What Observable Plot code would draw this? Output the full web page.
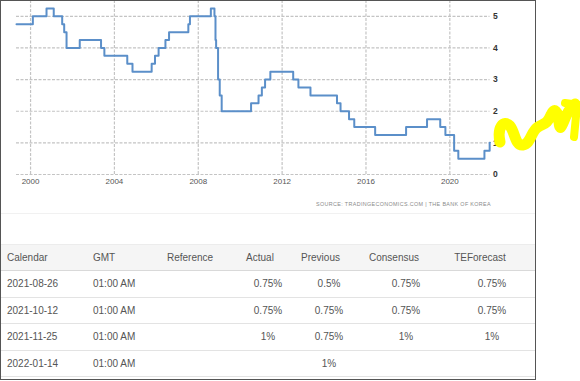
<!DOCTYPE html>
<html><head><meta charset="utf-8">
<script src="https://cdn.jsdelivr.net/npm/d3@7"></script>
<script src="https://cdn.jsdelivr.net/npm/@observablehq/plot@0.6"></script>
<style>
html,body{margin:0;padding:0;background:#fff;width:580px;height:381px;overflow:hidden;font-family:"Liberation Sans",Arial,sans-serif;}
#box{position:absolute;left:0;top:0;width:536px;height:380px;box-sizing:border-box;border:1px solid #555;z-index:3;pointer-events:none;}
#chart{position:absolute;left:0;top:0;}
#source{position:absolute;left:0;top:201px;width:491px;text-align:right;font-size:5.4px;line-height:6px;letter-spacing:0.35px;color:#8a8a8a;}
#sep{position:absolute;left:1px;top:213px;width:534px;height:1px;background:#f1f1f1;}
#table{position:absolute;left:0;top:0;width:536px;}
.row{position:absolute;left:0;width:536px;box-sizing:border-box;border-bottom:1px solid #e3e3e3;}
.row.head{background:#f5f5f5;border-top:1px solid #ececec;border-bottom:1px solid #d9d9d9;}
.cell{position:absolute;top:0;font-size:10px;color:#555;white-space:nowrap;}
#scribble{position:absolute;left:0;top:0;z-index:4;pointer-events:none;}
</style>
</head><body>
<div id="chart"></div>
<div id="source">SOURCE: TRADINGECONOMICS.COM | THE BANK OF KOREA</div>
<div id="sep"></div>
<div id="table"></div>
<div id="box"></div>
<svg id="scribble" width="580" height="381">
  <path d="M500,142 C497,128 503,119 510,126 C515,132 515,146 523,145 C531,144 531,131 538,127 C545,123 547,124 551,115 C554,107 558,111 559,122 C560,133 562,125 566,116 C569,110 572,106 575,104" fill="none" stroke="#ffff00" stroke-width="11" stroke-linecap="round" stroke-linejoin="round"/>
  <path d="M565,103 L579,105 M577,106 L574,137" fill="none" stroke="#ffff00" stroke-width="8" stroke-linecap="round"/>
</svg>
<script>
// Bank of Korea base rate (%), change dates and new levels
const rateDates = ["1999-05-01","2000-02-10","2000-10-05","2001-02-08","2001-07-05","2001-08-09","2001-09-19","2002-05-07","2003-05-13","2003-07-10","2004-08-12","2004-11-11","2005-10-11","2005-12-08","2006-02-09","2006-06-08","2006-08-10","2007-07-12","2007-08-09","2008-08-07","2008-10-09","2008-10-27","2008-11-07","2008-12-11","2009-01-09","2009-02-12","2010-07-09","2010-11-16","2011-01-13","2011-03-10","2011-06-10","2012-07-12","2012-10-11","2013-05-09","2014-08-14","2014-10-15","2015-03-12","2015-06-11","2016-06-09","2017-11-30","2018-11-30","2019-07-18","2019-10-16","2020-03-16","2020-05-28","2021-08-26","2021-11-25","2021-12-01"];
const rateValues = [4.75,5.00,5.25,5.00,4.75,4.50,4.00,4.25,4.00,3.75,3.50,3.25,3.50,3.75,4.00,4.25,4.50,4.75,5.00,5.25,5.00,4.25,4.00,3.00,2.50,2.00,2.25,2.50,2.75,3.00,3.25,3.00,2.75,2.50,2.25,2.00,1.75,1.50,1.25,1.50,1.75,1.50,1.25,0.75,0.50,0.75,1.00,1.00];
const xTickYears = [2000,2004,2008,2012,2016,2020];
const yTickValues = [0,1,2,3,4,5];

// Calendar table
const tableHeaders = ["Calendar","GMT","Reference","Actual","Previous","Consensus","TEForecast"];
const calendarDates = ["2021-08-26","2021-10-12","2021-11-25","2022-01-14"];
const gmtTimes = ["01:00 AM","01:00 AM","01:00 AM","01:00 AM"];
const referenceVals = ["","","",""];
const actualVals = ["0.75%","0.75%","1%",""];
const previousVals = ["0.5%","0.75%","0.75%","1%"];
const consensusVals = ["0.75%","0.75%","1%",""];
const forecastVals = ["0.75%","0.75%","1%",""];

const data = rateDates.map((d,i)=>({date:new Date(d+"T00:00:00Z"), value:rateValues[i]}));
const xTicks = xTickYears.map(y=>new Date(Date.UTC(y,0,1)));

const chart = Plot.plot({
  width:535, height:200,
  marginLeft:16, marginRight:45.5, marginTop:0, marginBottom:26,
  style:{fontFamily:"Liberation Sans, Arial, sans-serif", fontSize:"8px", background:"transparent", overflow:"visible"},
  x:{type:"utc", domain:[new Date("1999-05-01T00:00:00Z"), new Date("2021-12-01T00:00:00Z")], label:null},
  y:{domain:[0,5.5], label:null},
  marks:[
    Plot.ruleX(xTicks,{x:d=>d, y1:0, y2:5.5, stroke:"#c4c4c4", strokeOpacity:1, strokeDasharray:"3,1.5", strokeWidth:1.2}),
    Plot.ruleY(yTickValues,{y:d=>d, stroke:"#c4c4c4", strokeOpacity:1, strokeDasharray:"3,1.5", strokeWidth:1.2}),
    Plot.axisX(xTicks,{tickSize:0, tickPadding:4, tickFormat:d3.utcFormat("%Y"), fill:"#555", fontSize:8}),
    Plot.axisY(yTickValues,{anchor:"right", tickSize:0, tickPadding:3, fill:"#333", fontSize:8.5, fontWeight:"bold"}),
    Plot.line(data,{x:"date", y:"value", curve:"step-after", stroke:"#5b8fc9", strokeWidth:2})
  ]
});
document.getElementById("chart").appendChild(chart);

// table layout (positions only)
const colLayout = [
  {left:7},{left:93},{left:167},
  {hc:260, vc:268},{hc:320.5, vc:329},{hc:394, vc:406},{hc:480, vc:492}
];
const columns = [calendarDates, gmtTimes, referenceVals, actualVals, previousVals, consensusVals, forecastVals];
const table = d3.select("#table");
const rowTops = [244, 271, 297.5, 324, 350.5];
const rowHeights = [27, 26.5, 26.5, 26.5, 26.5];
function addRow(texts, idx, isHead){
  const row = table.append("div").attr("class", "row" + (isHead ? " head" : ""))
    .style("top", rowTops[idx] + "px").style("height", rowHeights[idx] + "px");
  texts.forEach((t,j)=>{
    const L = colLayout[j];
    const c = row.append("div").attr("class","cell").text(t)
      .style("line-height", (rowHeights[idx]-1) + "px");
    if (L.left !== undefined) { c.style("left", L.left + "px"); }
    else {
      const center = isHead ? L.hc : L.vc;
      c.style("left", (center - 40) + "px").style("width","80px").style("text-align","center");
    }
  });
}
addRow(tableHeaders, 0, true);
calendarDates.forEach((_,i)=> addRow(columns.map(col=>col[i]), i+1, false));
</script>
</body></html>
